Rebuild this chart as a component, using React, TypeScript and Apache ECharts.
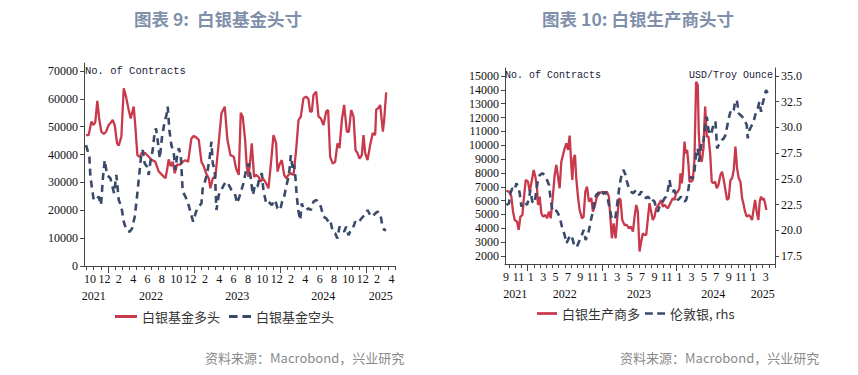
import React, { useEffect, useRef } from 'react';
import * as echarts from 'echarts';

// x positions are months since 2021-01-01 (fractional)
const fundLongX = [8.93, 9.3, 9.68, 10.0, 10.23, 10.51, 10.79, 11.07, 11.4, 11.72, 12.09, 12.37, 12.65, 12.93, 13.26, 13.49, 13.86, 14.19, 14.51, 14.88, 15.16, 15.58, 15.81, 16.09, 16.37, 16.74, 17.21, 17.67, 18.14, 18.6, 19.07, 19.53, 20.0, 20.23, 20.46, 20.74, 21.02, 21.3, 21.62, 22.09, 22.41, 22.79, 23.16, 23.62, 23.95, 24.27, 24.65, 25.02, 25.34, 25.67, 26.04, 26.27, 26.6, 26.97, 27.44, 27.81, 28.27, 28.64, 29.06, 29.53, 29.85, 30.22, 30.5, 30.78, 31.11, 31.34, 31.57, 31.8, 32.04, 32.36, 32.64, 32.97, 33.29, 33.57, 33.9, 34.36, 34.69, 35.06, 35.43, 35.62, 35.9, 36.22, 36.55, 36.83, 37.15, 37.48, 37.85, 38.22, 38.55, 38.87, 39.24, 39.61, 39.94, 40.17, 40.41, 40.64, 41.01, 41.34, 41.66, 42.03, 42.4, 42.68, 42.96, 43.33, 43.66, 43.98, 44.26, 44.59, 44.91, 45.29, 45.57, 45.89, 46.22, 46.5, 46.77, 47.05, 47.38, 47.61, 47.84, 48.17, 48.54, 48.91, 49.24, 49.38, 49.66, 49.94, 50.31, 50.49, 50.77];
const fundLongY = [47000, 47000, 51800, 50600, 51800, 59300, 52400, 48200, 47400, 48200, 50600, 51400, 52400, 50600, 44000, 43200, 46400, 63800, 60800, 56000, 53000, 57200, 50000, 39800, 39200, 40700, 40500, 39200, 38000, 37400, 33900, 32700, 31500, 34500, 38300, 35800, 37400, 33300, 36400, 36400, 37400, 38000, 37400, 45800, 46700, 46200, 45300, 37400, 35800, 33300, 31500, 27900, 31500, 32100, 44600, 54800, 57200, 45300, 39800, 39200, 35000, 32700, 55000, 53500, 45200, 35600, 32000, 37400, 44000, 32000, 32700, 32000, 30300, 31500, 30300, 27900, 36400, 47000, 44000, 33900, 36400, 38000, 32700, 31500, 32700, 33300, 32700, 41600, 52400, 53600, 60200, 60800, 59900, 55400, 55400, 61400, 62600, 53600, 53000, 50600, 55400, 56000, 39200, 36800, 37400, 44000, 42300, 52400, 57800, 48200, 48200, 56000, 53600, 41600, 40500, 38600, 39800, 47000, 40500, 38000, 43500, 47700, 47000, 56200, 56600, 57800, 48200, 52400, 62300];

const fundShortX = [8.93, 9.4, 9.54, 9.77, 10.0, 10.33, 10.7, 11.02, 11.3, 11.54, 11.86, 12.33, 12.56, 12.84, 13.16, 13.49, 13.86, 14.19, 14.56, 15.02, 15.35, 15.72, 16.04, 16.37, 16.65, 16.84, 17.11, 17.44, 17.67, 17.9, 18.23, 18.51, 18.69, 18.97, 19.21, 19.53, 19.86, 20.14, 20.32, 20.55, 20.83, 21.16, 21.39, 21.62, 21.86, 22.14, 22.41, 22.79, 23.16, 23.48, 23.86, 24.27, 24.65, 25.02, 25.2, 25.58, 25.9, 26.18, 26.41, 26.6, 26.88, 27.11, 27.44, 27.81, 28.13, 28.46, 28.83, 29.2, 29.67, 29.99, 30.32, 30.87, 31.25, 31.57, 31.9, 32.18, 32.5, 32.83, 33.11, 33.43, 33.66, 34.04, 34.36, 34.83, 35.29, 35.62, 35.99, 36.27, 36.55, 36.83, 37.06, 37.29, 37.48, 37.76, 37.94, 38.13, 38.31, 38.55, 38.78, 39.01, 39.24, 39.61, 39.94, 40.27, 40.64, 41.01, 41.34, 41.66, 42.03, 42.4, 42.73, 42.96, 43.33, 43.66, 43.98, 44.26, 44.59, 44.91, 45.19, 45.52, 45.75, 46.12, 46.45, 46.77, 47.15, 47.52, 47.84, 48.17, 48.54, 48.91, 49.24, 49.56, 49.94, 50.22, 50.49, 50.77];
const fundShortY = [43400, 39200, 32000, 27900, 23700, 23700, 24900, 21900, 32000, 38000, 32700, 31500, 29100, 26100, 32700, 23700, 21300, 15900, 12900, 12300, 13500, 17700, 24900, 33300, 40500, 41600, 36800, 35600, 32700, 37400, 41600, 48200, 49400, 44000, 38600, 46400, 51400, 54200, 57200, 48800, 43400, 40500, 34500, 39200, 42300, 39800, 26700, 24900, 22500, 19500, 15900, 19500, 21300, 22500, 27900, 30900, 34500, 39200, 44600, 36800, 34500, 20100, 25500, 27300, 29100, 30300, 29100, 27300, 26100, 22500, 24900, 29700, 34500, 36800, 31500, 25500, 29100, 28500, 31500, 33300, 27300, 22500, 23100, 21900, 23700, 20700, 20100, 23100, 24900, 28500, 30900, 34500, 39800, 34500, 36400, 31500, 24900, 19500, 16500, 22500, 20700, 20100, 20700, 20100, 23100, 23700, 23100, 21300, 17700, 17100, 15900, 16500, 12300, 11700, 9900, 14100, 13500, 12300, 14100, 11100, 12300, 13500, 15900, 15300, 16500, 17700, 18300, 20100, 18300, 17700, 18900, 19500, 18900, 14700, 12900, 12900];

const prodLongX = [8.55, 8.98, 9.36, 9.63, 9.9, 10.28, 10.55, 10.82, 11.14, 11.41, 11.68, 12.05, 12.32, 12.59, 12.97, 13.24, 13.51, 13.67, 13.94, 14.21, 14.48, 14.85, 15.12, 15.45, 15.72, 16.09, 16.36, 16.63, 16.9, 17.17, 17.44, 17.71, 17.98, 18.25, 18.52, 18.79, 19.05, 19.22, 19.43, 19.65, 19.86, 20.13, 20.4, 20.78, 21.05, 21.32, 21.59, 21.91, 22.29, 22.55, 22.82, 23.2, 23.63, 24.06, 24.44, 24.82, 25.14, 25.36, 25.62, 25.89, 26.22, 26.49, 26.76, 27.02, 27.29, 27.67, 28.05, 28.37, 28.69, 29.02, 29.29, 29.56, 29.82, 30.09, 30.36, 30.63, 30.9, 31.17, 31.44, 31.7, 31.97, 32.24, 32.51, 32.78, 33.16, 33.59, 33.86, 34.13, 34.4, 34.67, 34.94, 35.2, 35.47, 35.74, 36.01, 36.28, 36.55, 36.71, 36.93, 37.09, 37.36, 37.57, 37.79, 38.01, 38.17, 38.44, 38.71, 38.97, 39.24, 39.51, 39.67, 39.89, 40.16, 40.43, 40.7, 40.97, 41.24, 41.51, 41.77, 42.04, 42.31, 42.58, 42.85, 43.17, 43.44, 43.71, 43.98, 44.25, 44.52, 44.79, 45.06, 45.33, 45.6, 45.87, 46.14, 46.41, 46.68, 46.94, 47.16, 47.43, 47.75, 48.02, 48.29, 48.56, 48.78, 49.04, 49.31, 49.53, 49.75, 49.96, 50.18, 50.39, 50.61];
const prodLongY = [6700, 6650, 6290, 5200, 4600, 4480, 3880, 4840, 4960, 6290, 7490, 7370, 6650, 7250, 8210, 7730, 6890, 5690, 6290, 5080, 4840, 4960, 4720, 5200, 4720, 6410, 7850, 8570, 7730, 6890, 8810, 9300, 9780, 10140, 9660, 10690, 8570, 7490, 9050, 9300, 7610, 6290, 5320, 4720, 4840, 6650, 7010, 5930, 6170, 5200, 5560, 6290, 6530, 6650, 6530, 6650, 6290, 4840, 3280, 4360, 3280, 4720, 6170, 6050, 4600, 4240, 4240, 4000, 4120, 3760, 4840, 5690, 5200, 2320, 3040, 3640, 3520, 3520, 4720, 5810, 5200, 4600, 4840, 5440, 5690, 6050, 5560, 5690, 5560, 5440, 5690, 5930, 6170, 6050, 6530, 6650, 6890, 7970, 7250, 7970, 10260, 9420, 9660, 8570, 7370, 7370, 7490, 8930, 14590, 14350, 10980, 9050, 8810, 9780, 12790, 10620, 10620, 9420, 7370, 7250, 7370, 6890, 7130, 7850, 8090, 7490, 6770, 6050, 6170, 7490, 7610, 8210, 9900, 8330, 7610, 7370, 6170, 5690, 5200, 4840, 4960, 4840, 4600, 5440, 6050, 5200, 4600, 5930, 6290, 6050, 6170, 5810, 5320];

const silverX = [8.55, 8.98, 9.2, 9.52, 9.9, 10.17, 10.44, 10.71, 10.98, 11.25, 11.52, 11.89, 12.22, 12.43, 12.75, 13.13, 13.4, 13.67, 13.94, 14.37, 14.75, 15.12, 15.45, 15.66, 15.99, 16.36, 16.74, 17.17, 17.6, 17.98, 18.25, 18.52, 18.89, 19.22, 19.59, 19.97, 20.29, 20.67, 21.05, 21.37, 21.75, 22.02, 22.29, 22.55, 22.82, 23.09, 23.36, 23.74, 24.06, 24.44, 24.82, 25.14, 25.52, 25.89, 26.22, 26.49, 26.76, 27.02, 27.29, 27.51, 27.83, 28.05, 28.37, 28.75, 29.02, 29.29, 29.56, 29.82, 30.09, 30.36, 30.63, 30.9, 31.17, 31.44, 31.7, 31.97, 32.24, 32.51, 32.78, 33.05, 33.32, 33.59, 33.86, 34.13, 34.4, 34.67, 34.94, 35.2, 35.47, 35.74, 36.01, 36.28, 36.55, 36.82, 37.09, 37.36, 37.63, 37.9, 38.17, 38.44, 38.71, 38.97, 39.24, 39.51, 39.67, 39.89, 40.16, 40.43, 40.7, 40.97, 41.24, 41.51, 41.77, 42.1, 42.37, 42.64, 42.91, 43.17, 43.44, 43.71, 43.98, 44.25, 44.52, 44.79, 45.06, 45.33, 45.6, 45.87, 46.14, 46.41, 46.68, 46.94, 47.16, 47.43, 47.59, 47.86, 48.13, 48.4, 48.67, 48.94, 49.21, 49.48, 49.75, 50.01, 50.28, 50.55, 50.82];
const silverY = [22.46, 22.62, 23.59, 24.08, 23.92, 24.57, 24.24, 23.59, 22.3, 22.62, 22.78, 22.46, 23.11, 23.92, 22.78, 22.62, 23.92, 24.89, 25.37, 25.54, 25.37, 24.89, 24.4, 23.27, 21.97, 22.13, 21.81, 21.32, 20.19, 19.54, 18.73, 19.05, 19.54, 19.22, 18.41, 18.41, 18.89, 19.38, 20.03, 19.05, 19.54, 20.35, 21.16, 21.81, 22.94, 23.43, 23.59, 23.75, 23.43, 23.75, 23.43, 22.46, 21.32, 21.0, 21.32, 22.62, 23.92, 24.89, 25.7, 25.86, 25.37, 24.73, 24.08, 23.75, 23.59, 23.75, 23.92, 23.59, 23.43, 23.75, 23.59, 23.27, 23.11, 23.27, 23.11, 23.27, 22.94, 22.78, 22.13, 21.81, 22.3, 22.62, 22.78, 23.11, 23.27, 23.92, 24.89, 23.92, 23.75, 23.92, 23.27, 22.94, 23.11, 23.27, 22.94, 22.78, 22.94, 23.59, 24.73, 25.21, 25.05, 25.7, 27.48, 27.97, 26.67, 27.32, 28.78, 28.62, 30.24, 31.05, 29.75, 29.26, 29.59, 30.4, 30.56, 27.97, 28.29, 28.45, 28.78, 28.94, 29.26, 30.07, 30.88, 31.53, 31.37, 31.7, 32.67, 32.5, 31.37, 31.21, 31.05, 30.88, 30.56, 30.24, 28.94, 29.75, 30.07, 30.4, 30.88, 31.53, 31.86, 32.5, 31.53, 32.34, 32.99, 33.64, 33.32];

// tick labels
const fundTicks = [0, 10000, 20000, 30000, 40000, 50000, 60000, 70000];
const prodTicks = [2000, 3000, 4000, 5000, 6000, 7000, 8000, 9000, 10000, 11000, 12000, 13000, 14000, 15000];
const priceTicks = [17.5, 20, 22.5, 25, 27.5, 30, 32.5, 35];
const leftMonthLabelPos = [9.5, 11.5, 13.5, 15.5, 17.5, 19.5, 21.5, 23.5, 25.5, 27.5, 29.5, 31.5, 33.5, 35.5, 37.5, 39.5, 41.5, 43.5, 45.5, 47.5, 49.5, 51.5];
const rightMonthLabelPos = [8.5, 10.5, 12.5, 14.5, 16.5, 18.5, 20.5, 22.5, 24.5, 26.5, 28.5, 30.5, 32.5, 34.5, 36.5, 38.5, 40.5, 42.5, 44.5, 46.5, 48.5, 50.5];
const yearLabels = ['2021', '2022', '2023', '2024', '2025'];
const yearLabelPos = [10, 18, 30, 42, 50];
const monthTicks = Array.from({ length: 44 }, (_, i) => i + 9);
const yearTicks = [12, 24, 36, 48];

const RED = '#C8394B';
const NAVY = '#3A4A6B';
const SERIF = 'Liberation Serif';
const CJK = 'Noto Sans CJK SC';
const MONO = 'Liberation Mono';
const SOLID_ICON = 'path://M0,0H22V3H0Z';
const DASH_ICON = 'path://M0,0H9V3H0Z M14,0H23V3H14Z';

const zip = (xs: number[], ys: number[]) => xs.map((x, i) => [x, ys[i]]);
const monthLabel = (v: number) => String((Math.floor(v) % 12) + 1);
const yearLabel = (v: number) => yearLabels[yearLabelPos.indexOf(v)] ?? '';

function xAxes(gridIndex: number, min: number, max: number, labelPos: number[]) {
  return [
    {
      type: 'value', gridIndex, min, max, position: 'bottom',
      splitLine: { show: false },
      axisLine: { show: true, lineStyle: { color: '#444', width: 1 } },
      axisTick: { show: true, customValues: monthTicks, length: 4, lineStyle: { color: '#444' } },
      axisLabel: { customValues: labelPos, formatter: monthLabel, margin: 7, fontFamily: SERIF, fontSize: 12, color: '#111' },
    },
    {
      type: 'value', gridIndex, min, max, position: 'bottom',
      splitLine: { show: false },
      axisLine: { show: false },
      axisTick: { show: true, customValues: yearTicks, length: 7, lineStyle: { color: '#444' } },
      axisLabel: { customValues: yearLabelPos, formatter: yearLabel, margin: 24, fontFamily: SERIF, fontSize: 12, color: '#111' },
    },
  ];
}

export default function App() {
  const ref = useRef<HTMLDivElement>(null);
  useEffect(() => {
    if (!ref.current) return;
    const chart = echarts.init(ref.current, undefined, { renderer: 'svg' });
    const yAxisCommon = {
      splitLine: { show: false },
      axisLine: { show: true, lineStyle: { color: '#444', width: 1 } },
    };
    const legendText = { fontFamily: CJK, fontSize: 13, color: '#333' };
    chart.setOption({
      animation: false,
      backgroundColor: '#fff',
      grid: [
        { left: 84, top: 63, width: 311, height: 203 },
        { left: 505, top: 68, width: 270, height: 196 },
      ],
      xAxis: [
        ...xAxes(0, 8.65, 52, leftMonthLabelPos),
        ...xAxes(1, 8.33, 52, rightMonthLabelPos),
      ],
      yAxis: [
        {
          ...yAxisCommon, type: 'value', gridIndex: 0, min: 0, max: 72872,
          axisTick: { show: true, customValues: fundTicks, length: 4, lineStyle: { color: '#444' } },
          axisLabel: { customValues: fundTicks, formatter: (v: number) => String(v), fontFamily: SERIF, fontSize: 12, color: '#111', margin: 6 },
        },
        {
          ...yAxisCommon, type: 'value', gridIndex: 1, min: 1422, max: 15578, position: 'left',
          axisTick: { show: true, customValues: prodTicks, length: 4, lineStyle: { color: '#444' } },
          axisLabel: { customValues: prodTicks, formatter: (v: number) => String(v), fontFamily: SERIF, fontSize: 12, color: '#111', margin: 6 },
        },
        {
          ...yAxisCommon, type: 'value', gridIndex: 1, min: 16.72, max: 35.78, position: 'right',
          axisTick: { show: true, customValues: priceTicks, length: 4, lineStyle: { color: '#444' } },
          axisLabel: { customValues: priceTicks, formatter: (v: number) => v.toFixed(1), fontFamily: SERIF, fontSize: 12, color: '#111', margin: 6 },
        },
      ],
      legend: [
        {
          data: [
            { name: '白银基金多头', icon: SOLID_ICON },
            { name: '白银基金空头', icon: DASH_ICON },
          ],
          left: 110, top: 305, itemWidth: 22, itemHeight: 3, itemGap: 9, textStyle: legendText,
        },
        {
          data: [
            { name: '白银生产商多', icon: SOLID_ICON },
            { name: '伦敦银, rhs', icon: DASH_ICON },
          ],
          left: 532, top: 302, itemWidth: 20, itemHeight: 3, itemGap: 5, textStyle: legendText,
        },
      ],
      series: [
        {
          name: '白银基金多头', type: 'line', xAxisIndex: 0, yAxisIndex: 0, showSymbol: false, symbol: 'none',
          data: zip(fundLongX, fundLongY), lineStyle: { color: RED, width: 2.3 }, itemStyle: { color: RED },
        },
        {
          name: '白银基金空头', type: 'line', xAxisIndex: 0, yAxisIndex: 0, showSymbol: false, symbol: 'none',
          data: zip(fundShortX, fundShortY), lineStyle: { color: NAVY, width: 2.6, type: [7, 5] }, itemStyle: { color: NAVY },
        },
        {
          name: '白银生产商多', type: 'line', xAxisIndex: 2, yAxisIndex: 1, showSymbol: false, symbol: 'none',
          data: zip(prodLongX, prodLongY), lineStyle: { color: RED, width: 2.3 }, itemStyle: { color: RED },
        },
        {
          name: '伦敦银, rhs', type: 'line', xAxisIndex: 2, yAxisIndex: 2, showSymbol: false, symbol: 'none',
          data: zip(silverX, silverY), lineStyle: { color: NAVY, width: 2.6, type: [7, 5] }, itemStyle: { color: NAVY },
        },
      ],
      graphic: [
        { type: 'text', style: { text: '图表 9:  白银基金头寸', x: 218, y: 18, align: 'center', verticalAlign: 'middle', fontFamily: CJK, fontSize: 17.5, fontWeight: 'bold', fill: '#7F90AA' } },
        { type: 'text', style: { text: '图表 10: 白银生产商头寸', x: 638, y: 18, align: 'center', verticalAlign: 'middle', fontFamily: CJK, fontSize: 17.5, fontWeight: 'bold', fill: '#7F90AA' } },
        { type: 'text', style: { text: 'No. of Contracts', x: 85, y: 71, verticalAlign: 'middle', fontFamily: MONO, fontSize: 10.5, fill: '#1A1A3A' } },
        { type: 'text', style: { text: 'No. of Contracts', x: 505, y: 75, verticalAlign: 'middle', fontFamily: MONO, fontSize: 10, fill: '#1A1A3A' } },
        { type: 'text', style: { text: 'USD/Troy Ounce', x: 773, y: 75, align: 'right', verticalAlign: 'middle', fontFamily: MONO, fontSize: 10, fill: '#1A1A3A' } },
        { type: 'text', style: { text: '资料来源：Macrobond，兴业研究', x: 205, y: 357, verticalAlign: 'middle', fontFamily: CJK, fontSize: 13, fill: '#8A8A8A' } },
        { type: 'text', style: { text: '资料来源：Macrobond，兴业研究', x: 620, y: 357, verticalAlign: 'middle', fontFamily: CJK, fontSize: 13, fill: '#8A8A8A' } },
      ],
    });
    return () => chart.dispose();
  }, []);
  return <div ref={ref} style={{ position: 'fixed', left: 0, top: 0, width: 858, height: 375 }} />;
}
